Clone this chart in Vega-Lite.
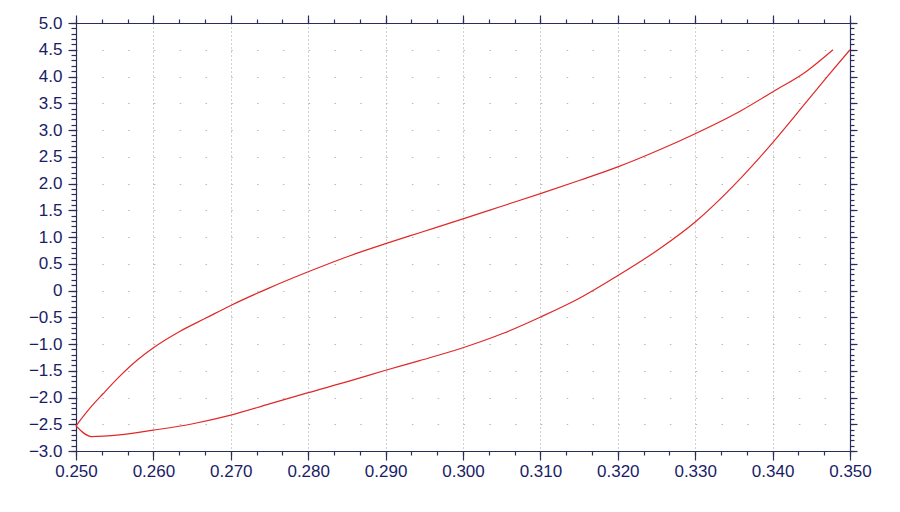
{
  "$schema": "https://vega.github.io/schema/vega-lite/v6.json",
  "autosize": "none",
  "width": 774,
  "height": 428,
  "padding": {"left": 76, "top": 23, "right": 50, "bottom": 61},
  "background": "white",
  "config": {
    "view": {"stroke": null},
    "axis": {
      "labelFont": "Liberation Sans",
      "labelFontSize": 17,
      "labelColor": "#1a1d66",
      "domainColor": "#2a2d5e",
      "tickColor": "#2a2d5e",
      "domainWidth": 1.2,
      "tickWidth": 1.2,
      "title": null
    }
  },
  "data": {
    "values": [
      {"curve": "upper", "x": 0.2500, "y": -2.53},
      {"curve": "upper", "x": 0.2518, "y": -2.20},
      {"curve": "upper", "x": 0.2535, "y": -1.93},
      {"curve": "upper", "x": 0.2556, "y": -1.61},
      {"curve": "upper", "x": 0.2580, "y": -1.29},
      {"curve": "upper", "x": 0.2600, "y": -1.07},
      {"curve": "upper", "x": 0.2634, "y": -0.765},
      {"curve": "upper", "x": 0.2668, "y": -0.515},
      {"curve": "upper", "x": 0.2700, "y": -0.28},
      {"curve": "upper", "x": 0.2750, "y": 0.05},
      {"curve": "upper", "x": 0.2800, "y": 0.35},
      {"curve": "upper", "x": 0.2854, "y": 0.65},
      {"curve": "upper", "x": 0.2901, "y": 0.88},
      {"curve": "upper", "x": 0.2944, "y": 1.08},
      {"curve": "upper", "x": 0.3000, "y": 1.34},
      {"curve": "upper", "x": 0.3052, "y": 1.585},
      {"curve": "upper", "x": 0.3101, "y": 1.815},
      {"curve": "upper", "x": 0.3151, "y": 2.06},
      {"curve": "upper", "x": 0.3200, "y": 2.31},
      {"curve": "upper", "x": 0.3254, "y": 2.63},
      {"curve": "upper", "x": 0.3300, "y": 2.93},
      {"curve": "upper", "x": 0.3358, "y": 3.35},
      {"curve": "upper", "x": 0.3401, "y": 3.72},
      {"curve": "upper", "x": 0.3444, "y": 4.10},
      {"curve": "upper", "x": 0.3478, "y": 4.50},
      {"curve": "lower", "x": 0.2500, "y": -2.53},
      {"curve": "lower", "x": 0.2520, "y": -2.73},
      {"curve": "lower", "x": 0.2556, "y": -2.70},
      {"curve": "lower", "x": 0.2600, "y": -2.61},
      {"curve": "lower", "x": 0.2651, "y": -2.49},
      {"curve": "lower", "x": 0.2700, "y": -2.33},
      {"curve": "lower", "x": 0.2750, "y": -2.12},
      {"curve": "lower", "x": 0.2800, "y": -1.91},
      {"curve": "lower", "x": 0.2854, "y": -1.69},
      {"curve": "lower", "x": 0.2900, "y": -1.49},
      {"curve": "lower", "x": 0.2944, "y": -1.31},
      {"curve": "lower", "x": 0.3000, "y": -1.07},
      {"curve": "lower", "x": 0.3052, "y": -0.80},
      {"curve": "lower", "x": 0.3101, "y": -0.49},
      {"curve": "lower", "x": 0.3151, "y": -0.14},
      {"curve": "lower", "x": 0.3198, "y": 0.26},
      {"curve": "lower", "x": 0.3254, "y": 0.78},
      {"curve": "lower", "x": 0.3300, "y": 1.28},
      {"curve": "lower", "x": 0.3349, "y": 1.95},
      {"curve": "lower", "x": 0.3373, "y": 2.32},
      {"curve": "lower", "x": 0.3401, "y": 2.78},
      {"curve": "lower", "x": 0.3444, "y": 3.53},
      {"curve": "lower", "x": 0.3472, "y": 4.02},
      {"curve": "lower", "x": 0.3500, "y": 4.50}
    ]
  },
  "resolve": {"axis": {"x": "independent", "y": "independent"}},
  "layer": [
    {
      "mark": {"type": "line", "color": "#e02828", "strokeWidth": 1.2, "interpolate": "monotone"},
      "encoding": {
        "x": {
          "field": "x", "type": "quantitative",
          "scale": {"domain": [0.25, 0.35], "nice": false, "zero": false},
          "axis": {
            "orient": "bottom",
            "values": [0.25, 0.26, 0.27, 0.28, 0.29, 0.30, 0.31, 0.32, 0.33, 0.34, 0.35],
            "format": ".3f",
            "tickSize": 9,
            "labelPadding": 3,
            "labelFlush": false,
            "grid": true,
            "gridColor": "#a0a0a0",
            "gridDash": [1, 3],
            "gridWidth": 1
          }
        },
        "y": {
          "field": "y", "type": "quantitative",
          "scale": {"domain": [-3, 5], "nice": false, "zero": false},
          "axis": {
            "orient": "left",
            "values": [-3, -2.5, -2, -1.5, -1, -0.5, 0, 0.5, 1, 1.5, 2, 2.5, 3, 3.5, 4, 4.5, 5],
            "labelExpr": "datum.value == 0 ? '0' : format(datum.value, '.1f')",
            "tickSize": 8,
            "labelPadding": 6,
            "labelFlush": false,
            "grid": true,
            "gridColor": "#b8b8b8",
            "gridDash": [1.5, 24.3],
            "gridWidth": 1
          }
        },
        "detail": {"field": "curve"}
      }
    },
    {
      "mark": {"type": "line", "strokeOpacity": 0},
      "encoding": {
        "x": {
          "field": "x", "type": "quantitative",
          "axis": {
            "orient": "bottom", "labels": false, "domain": false, "grid": false, "tickSize": 4,
            "values": [0.25, 0.253333, 0.256667, 0.26, 0.263333, 0.266667, 0.27, 0.273333, 0.276667, 0.28, 0.283333, 0.286667, 0.29, 0.293333, 0.296667, 0.30, 0.303333, 0.306667, 0.31, 0.313333, 0.316667, 0.32, 0.323333, 0.326667, 0.33, 0.333333, 0.336667, 0.34, 0.343333, 0.346667, 0.35]
          }
        },
        "y": {
          "field": "y", "type": "quantitative",
          "axis": {
            "orient": "left", "labels": false, "domain": false, "grid": false, "tickSize": 5,
            "values": [-3.0, -2.9, -2.8, -2.7, -2.6, -2.5, -2.4, -2.3, -2.2, -2.1, -2.0, -1.9, -1.8, -1.7, -1.6, -1.5, -1.4, -1.3, -1.2, -1.1, -1.0, -0.9, -0.8, -0.7, -0.6, -0.5, -0.4, -0.3, -0.2, -0.1, 0.0, 0.1, 0.2, 0.3, 0.4, 0.5, 0.6, 0.7, 0.8, 0.9, 1.0, 1.1, 1.2, 1.3, 1.4, 1.5, 1.6, 1.7, 1.8, 1.9, 2.0, 2.1, 2.2, 2.3, 2.4, 2.5, 2.6, 2.7, 2.8, 2.9, 3.0, 3.1, 3.2, 3.3, 3.4, 3.5, 3.6, 3.7, 3.8, 3.9, 4.0, 4.1, 4.2, 4.3, 4.4, 4.5, 4.6, 4.7, 4.8, 4.9, 5.0]
          }
        },
        "detail": {"field": "curve"}
      }
    },
    {
      "mark": {"type": "line", "strokeOpacity": 0},
      "encoding": {
        "x": {
          "field": "x", "type": "quantitative",
          "axis": {
            "orient": "top", "labels": false, "grid": false, "tickSize": 8,
            "values": [0.25, 0.26, 0.27, 0.28, 0.29, 0.30, 0.31, 0.32, 0.33, 0.34, 0.35]
          }
        },
        "y": {
          "field": "y", "type": "quantitative",
          "axis": {
            "orient": "right", "labels": false, "grid": false, "tickSize": 7,
            "values": [-3, -2.5, -2, -1.5, -1, -0.5, 0, 0.5, 1, 1.5, 2, 2.5, 3, 3.5, 4, 4.5, 5]
          }
        },
        "detail": {"field": "curve"}
      }
    },
    {
      "mark": {"type": "line", "strokeOpacity": 0},
      "encoding": {
        "x": {
          "field": "x", "type": "quantitative",
          "axis": {
            "orient": "top", "labels": false, "domain": false, "grid": false, "tickSize": 4,
            "values": [0.25, 0.253333, 0.256667, 0.26, 0.263333, 0.266667, 0.27, 0.273333, 0.276667, 0.28, 0.283333, 0.286667, 0.29, 0.293333, 0.296667, 0.30, 0.303333, 0.306667, 0.31, 0.313333, 0.316667, 0.32, 0.323333, 0.326667, 0.33, 0.333333, 0.336667, 0.34, 0.343333, 0.346667, 0.35]
          }
        },
        "y": {
          "field": "y", "type": "quantitative",
          "axis": {
            "orient": "right", "labels": false, "domain": false, "grid": false, "tickSize": 4,
            "values": [-3.0, -2.9, -2.8, -2.7, -2.6, -2.5, -2.4, -2.3, -2.2, -2.1, -2.0, -1.9, -1.8, -1.7, -1.6, -1.5, -1.4, -1.3, -1.2, -1.1, -1.0, -0.9, -0.8, -0.7, -0.6, -0.5, -0.4, -0.3, -0.2, -0.1, 0.0, 0.1, 0.2, 0.3, 0.4, 0.5, 0.6, 0.7, 0.8, 0.9, 1.0, 1.1, 1.2, 1.3, 1.4, 1.5, 1.6, 1.7, 1.8, 1.9, 2.0, 2.1, 2.2, 2.3, 2.4, 2.5, 2.6, 2.7, 2.8, 2.9, 3.0, 3.1, 3.2, 3.3, 3.4, 3.5, 3.6, 3.7, 3.8, 3.9, 4.0, 4.1, 4.2, 4.3, 4.4, 4.5, 4.6, 4.7, 4.8, 4.9, 5.0]
          }
        },
        "detail": {"field": "curve"}
      }
    }
  ]
}
